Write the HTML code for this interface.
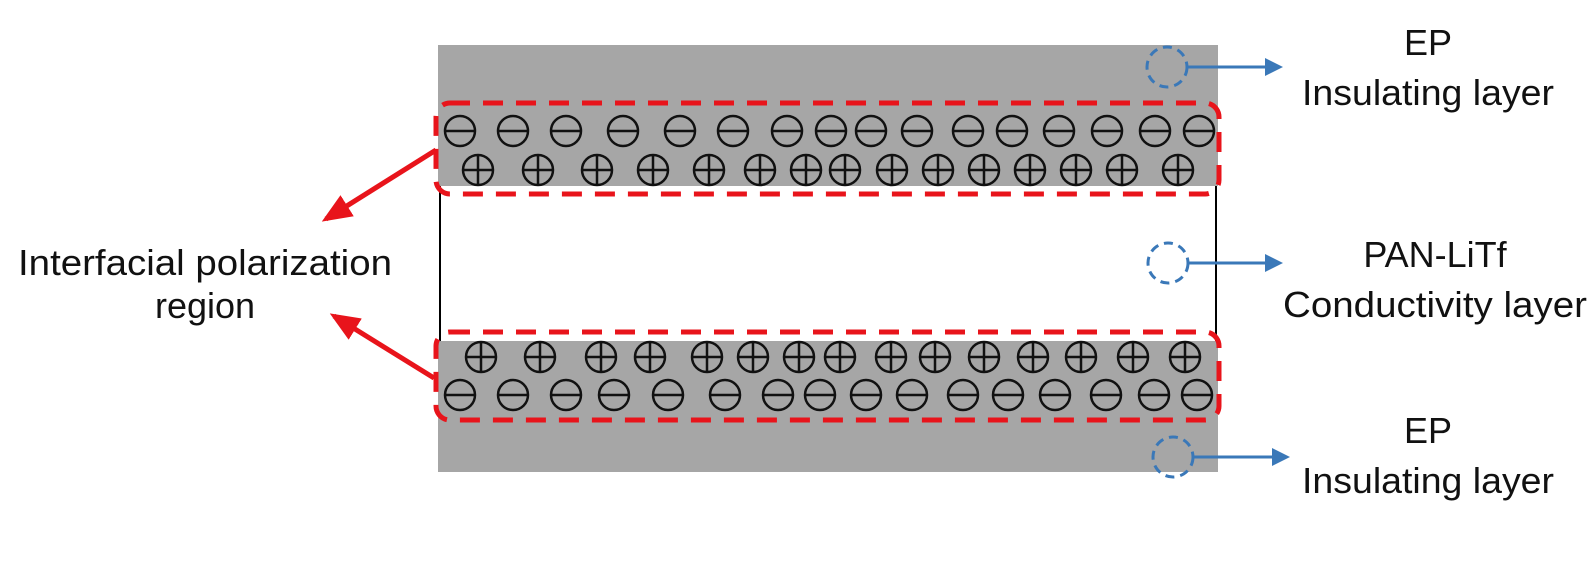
<!DOCTYPE html>
<html><head><meta charset="utf-8"><style>
html,body{margin:0;padding:0;background:#fff;}
svg{display:block;}
text{font-family:"Liberation Sans",sans-serif;fill:#111;}
</style></head><body>
<svg width="1596" height="570" viewBox="0 0 1596 570" xmlns="http://www.w3.org/2000/svg">
<defs>
<marker id="ra" markerWidth="6" markerHeight="6" refX="5" refY="3" orient="auto" markerUnits="strokeWidth"><path d="M0,0.5 L6,3 L0,5.5 z" fill="#e8141b"/></marker>
<marker id="ba" markerWidth="6" markerHeight="6" refX="5" refY="3" orient="auto" markerUnits="strokeWidth"><path d="M0,0 L6,3 L0,6 z" fill="#3a78b8"/></marker>
</defs>
<rect x="438" y="45" width="780" height="141" fill="#a6a6a6"/>
<rect x="438" y="341" width="780" height="131" fill="#a6a6a6"/>
<line x1="440" y1="186" x2="440" y2="341" stroke="#000" stroke-width="2"/>
<line x1="1216" y1="186" x2="1216" y2="341" stroke="#000" stroke-width="2"/>
<rect x="436" y="103" width="783" height="91" rx="14" fill="none" stroke="#e8141b" stroke-width="5" stroke-dasharray="20,13"/>
<rect x="436" y="332" width="783" height="88" rx="14" fill="none" stroke="#e8141b" stroke-width="5" stroke-dasharray="20,13"/>
<line x1="436" y1="150" x2="326" y2="219" stroke="#e8141b" stroke-width="5" marker-end="url(#ra)"/>
<line x1="434" y1="378" x2="334" y2="316" stroke="#e8141b" stroke-width="5" marker-end="url(#ra)"/>
<g fill="none" stroke="#3a78b8" stroke-width="3">
<circle cx="1167" cy="67" r="20" stroke-dasharray="9,6"/>
<circle cx="1168" cy="263" r="20" stroke-dasharray="9,6"/>
<circle cx="1173" cy="457" r="20" stroke-dasharray="9,6"/>
<line x1="1187" y1="67" x2="1280" y2="67" marker-end="url(#ba)"/>
<line x1="1188" y1="263" x2="1280" y2="263" marker-end="url(#ba)"/>
<line x1="1193" y1="457" x2="1287" y2="457" marker-end="url(#ba)"/>
</g>
<text x="1428" y="55" font-size="36" text-anchor="middle">EP</text>
<text x="1302" y="105" font-size="36" textLength="252" lengthAdjust="spacingAndGlyphs">Insulating layer</text>
<text x="1435" y="267" font-size="36" text-anchor="middle">PAN-LiTf</text>
<text x="1283" y="317" font-size="36" textLength="304" lengthAdjust="spacingAndGlyphs">Conductivity layer</text>
<text x="1428" y="443" font-size="36" text-anchor="middle">EP</text>
<text x="1302" y="493" font-size="36" textLength="252" lengthAdjust="spacingAndGlyphs">Insulating layer</text>
<text x="18" y="275" font-size="36" textLength="374" lengthAdjust="spacingAndGlyphs">Interfacial polarization</text>
<text x="205" y="318" font-size="36" text-anchor="middle">region</text>
<g fill="none" stroke="#111" stroke-width="2.5">
<g transform="translate(0,131)">
<circle cx="460" r="15"/><path d="M445 0H475"/>
<circle cx="513" r="15"/><path d="M498 0H528"/>
<circle cx="566" r="15"/><path d="M551 0H581"/>
<circle cx="623" r="15"/><path d="M608 0H638"/>
<circle cx="680" r="15"/><path d="M665 0H695"/>
<circle cx="733" r="15"/><path d="M718 0H748"/>
<circle cx="787" r="15"/><path d="M772 0H802"/>
<circle cx="831" r="15"/><path d="M816 0H846"/>
<circle cx="871" r="15"/><path d="M856 0H886"/>
<circle cx="917" r="15"/><path d="M902 0H932"/>
<circle cx="968" r="15"/><path d="M953 0H983"/>
<circle cx="1012" r="15"/><path d="M997 0H1027"/>
<circle cx="1059" r="15"/><path d="M1044 0H1074"/>
<circle cx="1107" r="15"/><path d="M1092 0H1122"/>
<circle cx="1155" r="15"/><path d="M1140 0H1170"/>
<circle cx="1199" r="15"/><path d="M1184 0H1214"/>
</g>
<g transform="translate(0,170)">
<circle cx="478" r="15"/><path d="M463 0H493M478 -15V15"/>
<circle cx="538" r="15"/><path d="M523 0H553M538 -15V15"/>
<circle cx="597" r="15"/><path d="M582 0H612M597 -15V15"/>
<circle cx="653" r="15"/><path d="M638 0H668M653 -15V15"/>
<circle cx="709" r="15"/><path d="M694 0H724M709 -15V15"/>
<circle cx="760" r="15"/><path d="M745 0H775M760 -15V15"/>
<circle cx="806" r="15"/><path d="M791 0H821M806 -15V15"/>
<circle cx="845" r="15"/><path d="M830 0H860M845 -15V15"/>
<circle cx="892" r="15"/><path d="M877 0H907M892 -15V15"/>
<circle cx="938" r="15"/><path d="M923 0H953M938 -15V15"/>
<circle cx="984" r="15"/><path d="M969 0H999M984 -15V15"/>
<circle cx="1030" r="15"/><path d="M1015 0H1045M1030 -15V15"/>
<circle cx="1076" r="15"/><path d="M1061 0H1091M1076 -15V15"/>
<circle cx="1122" r="15"/><path d="M1107 0H1137M1122 -15V15"/>
<circle cx="1178" r="15"/><path d="M1163 0H1193M1178 -15V15"/>
</g>
<g transform="translate(0,357)">
<circle cx="481" r="15"/><path d="M466 0H496M481 -15V15"/>
<circle cx="540" r="15"/><path d="M525 0H555M540 -15V15"/>
<circle cx="601" r="15"/><path d="M586 0H616M601 -15V15"/>
<circle cx="650" r="15"/><path d="M635 0H665M650 -15V15"/>
<circle cx="707" r="15"/><path d="M692 0H722M707 -15V15"/>
<circle cx="753" r="15"/><path d="M738 0H768M753 -15V15"/>
<circle cx="799" r="15"/><path d="M784 0H814M799 -15V15"/>
<circle cx="840" r="15"/><path d="M825 0H855M840 -15V15"/>
<circle cx="891" r="15"/><path d="M876 0H906M891 -15V15"/>
<circle cx="935" r="15"/><path d="M920 0H950M935 -15V15"/>
<circle cx="984" r="15"/><path d="M969 0H999M984 -15V15"/>
<circle cx="1033" r="15"/><path d="M1018 0H1048M1033 -15V15"/>
<circle cx="1081" r="15"/><path d="M1066 0H1096M1081 -15V15"/>
<circle cx="1133" r="15"/><path d="M1118 0H1148M1133 -15V15"/>
<circle cx="1185" r="15"/><path d="M1170 0H1200M1185 -15V15"/>
</g>
<g transform="translate(0,395)">
<circle cx="460" r="15"/><path d="M445 0H475"/>
<circle cx="513" r="15"/><path d="M498 0H528"/>
<circle cx="566" r="15"/><path d="M551 0H581"/>
<circle cx="614" r="15"/><path d="M599 0H629"/>
<circle cx="668" r="15"/><path d="M653 0H683"/>
<circle cx="725" r="15"/><path d="M710 0H740"/>
<circle cx="778" r="15"/><path d="M763 0H793"/>
<circle cx="820" r="15"/><path d="M805 0H835"/>
<circle cx="866" r="15"/><path d="M851 0H881"/>
<circle cx="912" r="15"/><path d="M897 0H927"/>
<circle cx="963" r="15"/><path d="M948 0H978"/>
<circle cx="1008" r="15"/><path d="M993 0H1023"/>
<circle cx="1055" r="15"/><path d="M1040 0H1070"/>
<circle cx="1106" r="15"/><path d="M1091 0H1121"/>
<circle cx="1154" r="15"/><path d="M1139 0H1169"/>
<circle cx="1197" r="15"/><path d="M1182 0H1212"/>
</g>
</g>
</svg>
</body></html>
